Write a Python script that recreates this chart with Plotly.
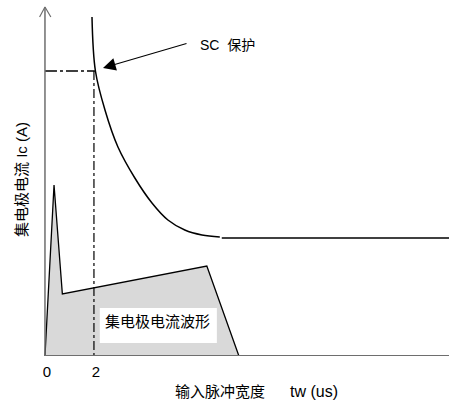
import plotly.graph_objects as go

# Scale: x in microseconds, y in amperes (schematic units)
X_MAX = 16.5
Y_MAX = 35.6

# Collector current waveform (filled polygon)
wave_x = [0.0, 0.37, 0.71, 6.61, 7.92]
wave_y = [0.0, 17.1, 6.2, 9.0, 0.0]

# Short-circuit protection boundary curve
sc_x = [1.92, 2.06, 2.45, 2.98, 3.67, 4.37, 5.02, 5.71, 6.41, 7.14]
sc_y = [33.9, 28.5, 24.6, 20.9, 17.8, 15.3, 13.6, 12.6, 12.1, 11.9]

# Flat tail of the protection curve
tail_x = [7.22, X_MAX]
tail_y = [11.8, 11.8]

# Reference point on the curve (pulse width 2 us)
ref_x = 2.0
ref_y = 28.5

tick_vals = [0, 2]
tick_text = ["0", "2"]

AXIS_GRAY = "#6e6e6e"
FONT = "Liberation Sans, Arial, Noto Sans CJK SC"

fig = go.Figure()

# collector current waveform
fig.add_trace(go.Scatter(
    x=wave_x, y=wave_y, mode="lines", fill="toself",
    fillcolor="#d9d9d9", line=dict(color="black", width=1.3),
    hoverinfo="skip"))

# SC protection curve
fig.add_trace(go.Scatter(
    x=sc_x, y=sc_y, mode="lines",
    line=dict(color="black", width=1.5, shape="spline", smoothing=1.0),
    hoverinfo="skip"))
fig.add_trace(go.Scatter(
    x=tail_x, y=tail_y, mode="lines", line=dict(color="black", width=1.5),
    hoverinfo="skip"))

# dash-dot guides to the reference point
fig.add_trace(go.Scatter(
    x=[0, ref_x + 0.04], y=[ref_y, ref_y], mode="lines",
    line=dict(color="black", width=1.5, dash="12px,3px,3px,3px"), hoverinfo="skip"))
fig.add_trace(go.Scatter(
    x=[ref_x, ref_x], y=[ref_y, 0], mode="lines",
    line=dict(color="black", width=1.2, dash="9px,3px,3px,3px"), hoverinfo="skip"))

# axes drawn as lines, with an open arrow head on the vertical axis
fig.add_trace(go.Scatter(
    x=[0, X_MAX], y=[0, 0], mode="lines",
    line=dict(color=AXIS_GRAY, width=2), hoverinfo="skip"))
fig.add_trace(go.Scatter(
    x=[0, 0], y=[0, 34.9], mode="lines",
    line=dict(color=AXIS_GRAY, width=1.5), hoverinfo="skip"))
fig.add_trace(go.Scatter(
    x=[-0.22, 0, 0.24], y=[33.9, 34.9, 33.9], mode="lines",
    line=dict(color=AXIS_GRAY, width=1.2), hoverinfo="skip"))

# white box behind the waveform label
fig.add_shape(type="rect", x0=2.24, x1=7.02, y0=1.3, y1=4.8,
              fillcolor="white", line=dict(width=0), layer="above")

fig.add_annotation(x=2.35, y=3.5, text="集电极电流波形", showarrow=False,
                   xanchor="left", yanchor="middle",
                   font=dict(family=FONT, size=15, color="black"))

# SC protection label and arrow
fig.add_annotation(x=6.24, y=31.1, text="SC\u00a0\u00a0保护", showarrow=False,
                   xanchor="left", yanchor="middle",
                   font=dict(family=FONT, size=14, color="black"))
fig.add_annotation(x=2.37, y=28.8, text="", showarrow=True,
                   ax=85, ay=-25, arrowhead=2, arrowsize=2.3, arrowwidth=1.1,
                   arrowcolor="black")

# axis titles
fig.add_annotation(x=-0.98, y=17.7, text="集电极电流 Ic (A)", showarrow=False,
                   textangle=-90, xanchor="center", yanchor="middle",
                   font=dict(family=FONT, size=15, color="black"))
fig.add_annotation(x=8.63, xref="x", y=-35 / 356, yref="paper",
                   text="输入脉冲宽度" + "\u00a0" * 6
                   + "<span style='font-size:16px'>tw (us)</span>",
                   showarrow=False, xanchor="center", yanchor="middle",
                   font=dict(family=FONT, size=15, color="black"))

fig.update_xaxes(range=[-45 / 24.5, X_MAX], tickvals=tick_vals, ticktext=tick_text,
                 showgrid=False, zeroline=False, showline=False, ticks="",
                 tickfont=dict(family=FONT, size=15, color="black"),
                 ticklabelshift=2, ticklabelstandoff=5)
fig.update_yaxes(range=[0, Y_MAX], showgrid=False, zeroline=False,
                 showline=False, showticklabels=False, ticks="")

fig.update_layout(width=449, height=401, margin=dict(l=0, r=0, t=0, b=45),
                  plot_bgcolor="white", paper_bgcolor="white", showlegend=False)

fig.write_html("out.html")
